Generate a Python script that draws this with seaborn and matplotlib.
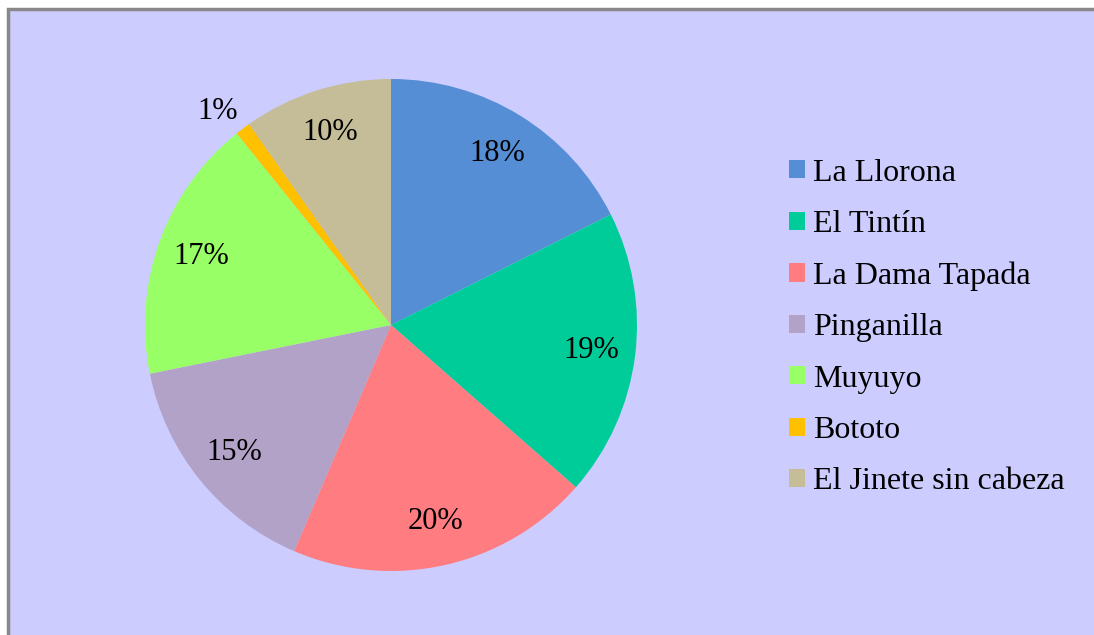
import numpy as np
import matplotlib
matplotlib.use("Agg")
import matplotlib.pyplot as plt
from matplotlib.patches import Rectangle
import seaborn as sns

leyendas = ["La Llorona", "El Tintín", "La Dama Tapada", "Pinganilla",
            "Muyuyo", "Bototo", "El Jinete sin cabeza"]
porcentajes = [17.6, 18.9, 20.0, 15.4, 17.4, 1.0, 9.8]
colores = ["#558ED5", "#00CC99", "#FF7C80", "#B3A2C7", "#99FF66", "#FFC000", "#C4BD97"]

sns.set_style("white")
plt.rcParams["font.family"] = ["Liberation Serif", "DejaVu Serif"]
plt.rcParams["text.color"] = "black"

W, H = 1094, 635
fig = plt.figure(figsize=(W / 100, H / 100), dpi=100, facecolor="white")

# chart area background with grey border (right/bottom cut off)
fig.patches.append(Rectangle((8 / W, -0.01), 1.0, (H - 9) / H + 0.01,
                             transform=fig.transFigure, facecolor="#CCCCFF",
                             edgecolor="#888888", linewidth=2.5, zorder=-5))

cx, cy, r = 391, 325, 246
ax = fig.add_axes([(cx - r) / W, (H - cy - r) / H, 2 * r / W, 2 * r / H])
ax.patch.set_visible(False)

palette = sns.color_palette(colores)
wedges, texts, autotexts = ax.pie(
    porcentajes, colors=palette, startangle=90, counterclock=False,
    autopct="%1.0f%%", pctdistance=0.82, radius=1.0,
    textprops={"fontsize": 22, "color": "black"},
    wedgeprops={"linewidth": 0})

# the tiny slice gets its label outside the pie
w = wedges[5]
ang = np.deg2rad((w.theta1 + w.theta2) / 2 + 1.5)
autotexts[5].set_position((1.13 * np.cos(ang), 1.11 * np.sin(ang)))

ax.set_xlim(-1, 1)
ax.set_ylim(-1, 1)
ax.set_aspect("equal")
ax.axis("off")

fig.legend(wedges, leyendas, loc="center left",
           bbox_to_anchor=(789 / W, 1 - 327.5 / H), frameon=False,
           fontsize=23, handlelength=0.5, handleheight=0.5,
           handletextpad=0.25, labelspacing=0.7, borderpad=0, borderaxespad=0,
           labelcolor="black")

fig.savefig("out.png", dpi=100, facecolor=fig.get_facecolor())
